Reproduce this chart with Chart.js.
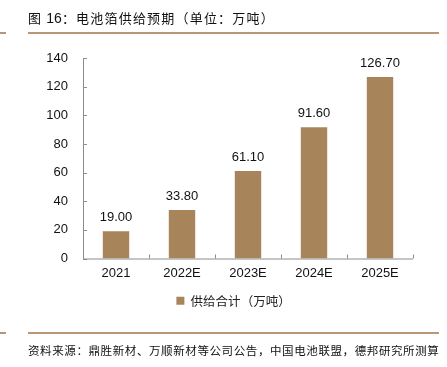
<!DOCTYPE html>
<html><head><meta charset="utf-8">
<script src="https://cdn.jsdelivr.net/npm/chart.js@4.4.0/dist/chart.umd.min.js"></script>
<style>
html,body{margin:0;padding:0;background:#fff;}
#wrap{position:relative;width:447px;height:367px;overflow:hidden;}
#c{position:absolute;left:0;top:0;}
.t{position:absolute;white-space:nowrap;color:#111;font-family:"Noto Sans CJK SC","DejaVu Sans",sans-serif;}
.ln{position:absolute;height:2px;background:#B99677;}
</style></head><body>
<div id="wrap">
<canvas id="c" width="447" height="367"></canvas>
<div class="t" id="title" style="left:28px;top:8px;font-size:13px;letter-spacing:1.2px;">图 <span style="font-family:'Liberation Sans',Arial,sans-serif;font-size:14px;letter-spacing:0">16</span>：电池箔供给预期（单位：万吨）</div>
<div class="ln" style="left:0;top:32px;width:6px;"></div>
<div class="ln" style="left:28px;top:32px;width:411px;"></div>
<div class="ln" style="left:0;top:332px;width:6px;"></div>
<div class="ln" style="left:28px;top:332px;width:411px;"></div>
<div class="t" id="src" style="left:28px;top:342px;font-size:11.5px;letter-spacing:0.6px;">资料来源：鼎胜新材、万顺新材等公司公告，中国电池联盟，德邦研究所测算</div>
</div>
<script>
const categories = ['2021', '2022E', '2023E', '2024E', '2025E'];
const supplyValues = [19.00, 33.80, 61.10, 91.60, 126.70];
const seriesName = '供给合计（万吨）';
const yTicks = [0, 20, 40, 60, 80, 100, 120, 140];

const innerTicks = {
  id: 'innerTicks',
  afterLayout(chart) {
    if (chart.legend) { chart.legend.left += 27; chart.legend.right += 27; }
  },
  afterDraw(chart) {
    const ctx = chart.ctx, x = chart.scales.x, y = chart.scales.y, a = chart.chartArea;
    ctx.save();
    ctx.strokeStyle = '#8c8c8c';
    ctx.lineWidth = 1;
    ctx.beginPath();
    ctx.moveTo(a.left + 0.5, a.top);
    ctx.lineTo(a.left + 0.5, a.bottom + 0.5);
    ctx.lineTo(a.right, a.bottom + 0.5);
    yTicks.forEach(v => { const py = Math.round(y.getPixelForValue(v)) + 0.5; ctx.moveTo(a.left, py); ctx.lineTo(a.left + 4, py); });
    for (let i = 0; i <= categories.length; i++) {
      const px = Math.round(x.getPixelForValue(i - 0.5)) + 0.5;
      ctx.moveTo(px, a.bottom); ctx.lineTo(px, a.bottom - 4);
    }
    ctx.stroke();
    ctx.fillStyle = '#111';
    ctx.font = '13px "Liberation Sans", Arial, sans-serif';
    ctx.textAlign = 'center';
    ctx.textBaseline = 'bottom';
    const meta = chart.getDatasetMeta(0);
    meta.data.forEach((bar, i) => {
      ctx.fillText(supplyValues[i].toFixed(2), bar.x, bar.y - 7);
    });
    ctx.restore();
  }
};

new Chart(document.getElementById('c'), {
  type: 'bar',
  data: {
    labels: categories,
    datasets: [{
      label: seriesName,
      data: supplyValues,
      backgroundColor: '#A8845B',
      borderWidth: 0,
      categoryPercentage: 1,
      barPercentage: 0.4
    }]
  },
  options: {
    responsive: false,
    animation: false,
    devicePixelRatio: 1,
    layout: { padding: { left: 0, right: 34, top: 58, bottom: 50 } },
    plugins: {
      legend: {
        position: 'bottom',
        labels: {
          boxWidth: 8, boxHeight: 8, padding: 6, color: '#222',
          font: { family: '"Noto Sans CJK SC", sans-serif', size: 12.5 }
        }
      },
      tooltip: { enabled: false }
    },
    scales: {
      x: {
        grid: { display: false, drawTicks: false },
        border: { display: false },
        ticks: { color: '#111', padding: 7, font: { family: '"Liberation Sans", Arial, sans-serif', size: 13 } },
        afterFit(s) { s.height = 30; }
      },
      y: {
        min: 0, max: 140,
        grid: { display: false, drawTicks: false },
        border: { display: false },
        ticks: { stepSize: 20, color: '#111', padding: 15, font: { family: '"Liberation Sans", Arial, sans-serif', size: 13 } },
        afterFit(s) { s.width = 83; }
      }
    }
  },
  plugins: [innerTicks]
});
</script>
</body></html>
